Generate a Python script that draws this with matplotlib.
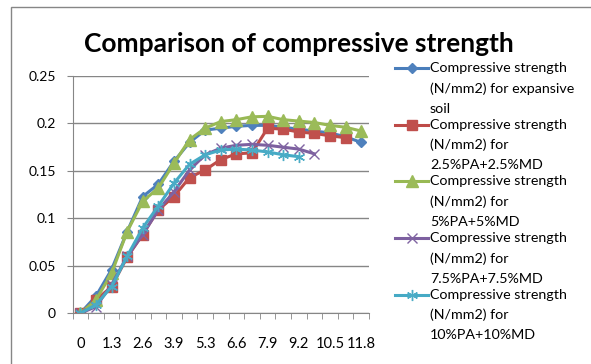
import matplotlib
matplotlib.use("Agg")
from matplotlib import pyplot as plt
from matplotlib.lines import Line2D
from matplotlib.patches import Rectangle

# 数据
categories = ['0', '0.65', '1.3', '1.95', '2.6', '3.25', '3.9', '4.6', '5.3', '5.95',
              '6.6', '7.25', '7.9', '8.55', '9.2', '9.85', '10.5', '11.15', '11.8']
expansive_soil = [0, 0.018, 0.046, 0.086, 0.123, 0.136, 0.160, 0.180, 0.193, 0.195,
                  0.197, 0.198, 0.198, 0.196, 0.194, 0.192, 0.190, 0.186, 0.180]
pa_md_2_5 = [0, 0.014, 0.028, 0.059, 0.083, 0.109, 0.123, 0.143, 0.151, 0.162,
             0.168, 0.169, 0.195, 0.194, 0.191, 0.1895, 0.187, 0.185]
pa_md_5 = [0, 0.014, 0.042, 0.086, 0.118, 0.132, 0.158, 0.183, 0.195, 0.202,
           0.204, 0.207, 0.2075, 0.204, 0.2025, 0.201, 0.198, 0.196, 0.192]
pa_md_7_5 = [0, 0.007, 0.030, 0.060, 0.083, 0.109, 0.128, 0.151, 0.167, 0.174,
             0.177, 0.178, 0.177, 0.175, 0.173, 0.168]
pa_md_10 = [0, 0.009, 0.028, 0.060, 0.090, 0.113, 0.137, 0.157, 0.167, 0.172,
            0.173, 0.172, 0.170, 0.167, 0.165]
y_ticks = [0, 0.05, 0.1, 0.15, 0.2, 0.25]
y_tick_labels = ['0', '0.05', '0.1', '0.15', '0.2', '0.25']

labels = [['Compressive strength', '(N/mm2) for expansive', 'soil'],
          ['Compressive strength', '(N/mm2) for', '2.5%PA+2.5%MD'],
          ['Compressive strength', '(N/mm2) for', '5%PA+5%MD'],
          ['Compressive strength', '(N/mm2) for', '7.5%PA+7.5%MD'],
          ['Compressive strength', '(N/mm2) for', '10%PA+10%MD']]

# 样式
styles = [
    dict(color='#4A7EBB', marker='D', markersize=5, mfc='#4F81BD', mec='#4F81BD'),
    dict(color='#BE4B48', marker='s', markersize=7.5, mfc='#C0504D', mec='#C0504D'),
    dict(color='#98B954', marker='^', markersize=8, mfc='#9BBB59', mec='#9BBB59'),
    dict(color='#7D60A0', marker='x', markersize=7, mfc='none', mec='#8064A2', mew=1),
    dict(color='#46AAC5', marker=(6, 2, 0), markersize=8, mfc='none', mec='#4BACC6', mew=1),
]
series = [expansive_soil, pa_md_2_5, pa_md_5, pa_md_7_5, pa_md_10]

plt.rcParams['font.family'] = ['Lato', 'DejaVu Sans']
grid_color = '#868686'

W, H = 591, 364
fig = plt.figure(figsize=(W / 100, H / 100), dpi=100)
ax = fig.add_axes([72.5 / W, 1 - 313.3 / H, (369 - 72.5) / W, (313.3 - 76) / H])

# 绘制折线
for values, st in zip(series, styles):
    ax.plot(range(len(values)), values, linewidth=2.2, **st)

# 坐标轴
ax.set_xlim(-0.5, len(categories) - 0.5)
ax.set_ylim(0, 0.25)
ax.set_yticks(y_ticks)
ax.set_yticklabels(y_tick_labels)
ax.set_xticks(range(0, len(categories), 2))
ax.set_xticklabels(categories[::2])
ax.set_xticks([i + 0.5 for i in range(-1, len(categories))], minor=True)
ax.tick_params(axis='x', which='major', length=0, pad=17, labelsize=10.5)
ax.tick_params(axis='x', which='minor', length=4, color=grid_color, direction='out')
ax.tick_params(axis='y', length=4, color=grid_color, pad=8, labelsize=10)
ax.grid(axis='y', color=grid_color, linewidth=1)
ax.set_axisbelow(True)
for s in ['top', 'right']:
    ax.spines[s].set_visible(False)
for s in ['left', 'bottom']:
    ax.spines[s].set_color(grid_color)

# 标题
fig.text(299 / W, 1 - 44 / H, 'Comparison of compressive strength', ha='center', va='center',
         fontsize=19, fontweight='bold')

# 图例（手动绘制）
for k, (lab, st) in enumerate(zip(labels, styles)):
    yc = 1 - (68 + 56.7 * k) / H
    fig.add_artist(Line2D([395 / W, 428 / W], [yc, yc], transform=fig.transFigure,
                          linewidth=2.2, **st, markevery=[]))
    fig.add_artist(Line2D([411.5 / W], [yc], transform=fig.transFigure, linestyle='none',
                          **{kk: v for kk, v in st.items() if kk != 'color'}))
    for j, line in enumerate(lab):
        fig.text(430 / W, 1 - (68 + 56.7 * k + 20.3 * j) / H, line, ha='left', va='center',
                 fontsize=10.3)

# 外框
fig.add_artist(Rectangle((11 / W, -0.1), 1.2, 1.1 - 7 / H, transform=fig.transFigure,
                         fill=False, edgecolor=grid_color, linewidth=1))

fig.savefig('out.png', dpi=100)
